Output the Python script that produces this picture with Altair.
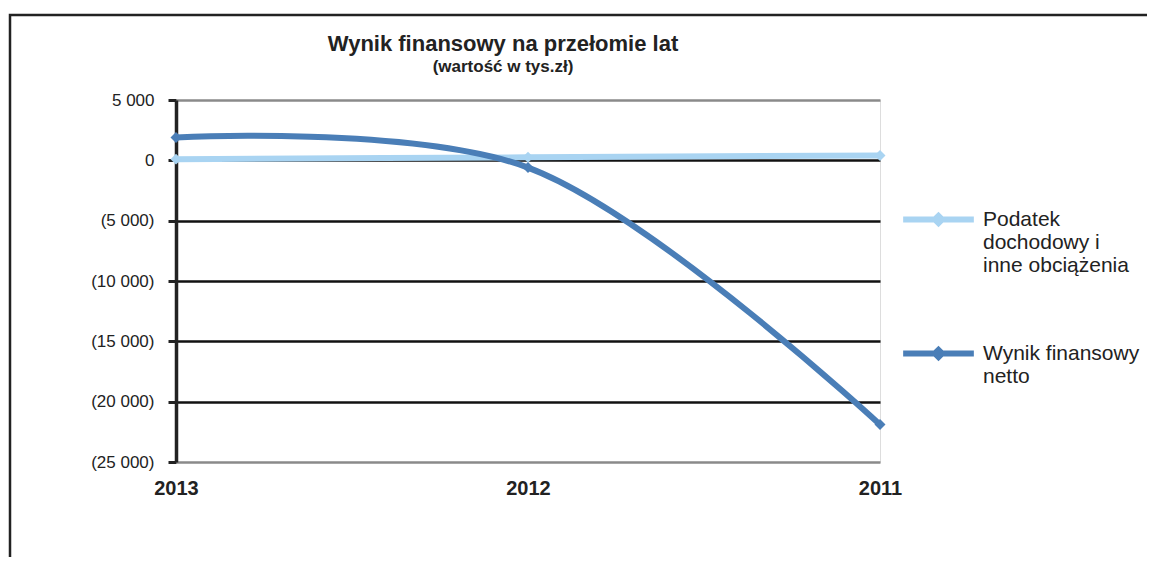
import altair as alt
import pandas as pd

years = ["2013", "2012", "2011"]
series_names = ["Podatek dochodowy i inne obciążenia", "Wynik finansowy netto"]
podatek = [100, 250, 400]
wynik = [1900, -600, -21900]
colors = ["#A9D4F2", "#4A7EB7"]
y_ticks = [5000, 0, -5000, -10000, -15000, -20000, -25000]

rows = []
for i, yr in enumerate(years):
    rows.append({"rok": yr, "seria": series_names[0], "wartosc": podatek[i]})
    rows.append({"rok": yr, "seria": series_names[1], "wartosc": wynik[i]})
df = pd.DataFrame(rows)

FONT = "Liberation Sans"

label_expr = (
    "datum.value < 0 ? '(' + replace(format(-datum.value, ','), ',', ' ') + ')' "
    ": replace(format(datum.value, ','), ',', ' ')"
)

legend_label = (
    "datum.label == 'Podatek dochodowy i inne obciążenia' ? "
    "['Podatek', 'dochodowy i', 'inne obciążenia'] : ['Wynik finansowy', 'netto']"
)

x_enc = alt.X(
    "rok:N",
    sort=years,
    scale=alt.Scale(type="point", padding=0),
    axis=alt.Axis(
        title=None, labelFont=FONT, labelFontSize=20, labelFontWeight="bold",
        labelColor="#222", labelAngle=0, ticks=False, domain=False, grid=False,
        labelPadding=16,
    ),
)
y_enc = alt.Y(
    "wartosc:Q",
    scale=alt.Scale(domain=[-25000, 5000], nice=False),
    axis=alt.Axis(
        title=None, values=y_ticks, labelExpr=label_expr, labelFont=FONT,
        labelFontSize=17, labelColor="#222", labelPadding=14,
        domainColor="#222", domainWidth=3.5, tickColor="#222", tickWidth=3, tickSize=8,
        gridColor={"condition": {"test": "datum.value == 5000 || datum.value == -25000", "value": "#8a8a8a"}, "value": "#111"},
        gridWidth=2.5,
    ),
)
color_enc = alt.Color(
    "seria:N",
    sort=series_names,
    scale=alt.Scale(domain=series_names, range=colors),
    legend=alt.Legend(
        title=None, orient="none", legendX=724, legendY=87,
        labelExpr=legend_label, labelFont=FONT, labelFontSize=21, labelColor="#222",
        labelBaseline="alphabetic", labelOffset=6, labelLimit=300,
        symbolType="M-1,-0.17L1,-0.17M-0.1,-0.17L0,-0.27L0.1,-0.17L0,-0.07Z",
        symbolSize=5000, symbolStrokeWidth=6, rowPadding=45,
    ),
)

base = alt.Chart(df).encode(x=x_enc, y=y_enc, color=color_enc)

lines = base.mark_line(interpolate="catmull-rom", strokeWidth=6)
points = base.mark_point(shape="diamond", filled=True, size=120, opacity=1)

frame_df = pd.DataFrame({"k": [0]})
frame = alt.Chart(frame_df).mark_rect(fill=None, stroke="#222", strokeWidth=2.5).encode(
    x=alt.value(-166), x2=alt.value(977), y=alt.value(-85), y2=alt.value(480)
)

chart = alt.layer(frame, lines, points).properties(
    width=704,
    height=362,
    title=alt.TitleParams(
        text="Wynik finansowy na przełomie lat",
        subtitle="(wartość w tys.zł)",
        font=FONT, fontSize=22, fontWeight="bold", color="#222",
        subtitleFont=FONT, subtitleFontSize=17, subtitleFontWeight="bold",
        subtitleColor="#222", anchor="middle", offset=-62, subtitlePadding=3,
        frame="group", dx=-25,
    ),
    autosize=alt.AutoSizeParams(type="none"),
    padding={"left": 168, "top": 92, "right": 267, "bottom": 95},
).configure_view(stroke="#8a8a8a", strokeWidth=2.5).configure(background="white")

chart.save("out.html", embed_options={"renderer": "svg", "actions": False})
